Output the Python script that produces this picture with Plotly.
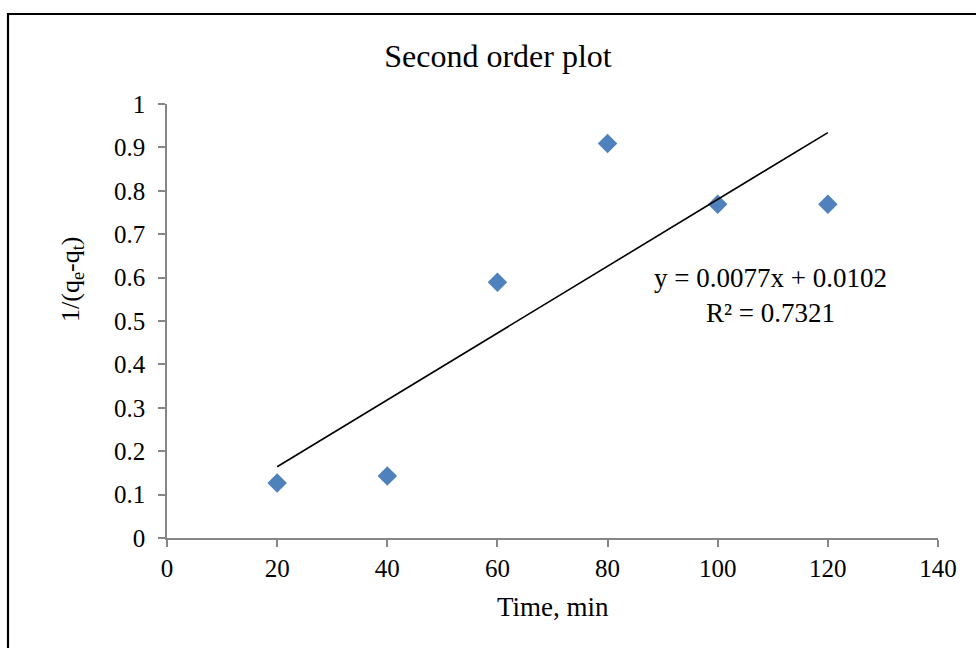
import plotly.graph_objects as go

# Adsorption kinetics: second order plot
time_min = [20, 40, 60, 80, 100, 120]
inv_q = [0.127, 0.143, 0.589, 0.909, 0.769, 0.769]

# Linear trendline as reported in the equation label
slope = 0.0077
intercept = 0.0102
r_squared = 0.7321
trend_x = [min(time_min), max(time_min)]
trend_y = [slope * x + intercept for x in trend_x]

x_ticks = [0, 20, 40, 60, 80, 100, 120, 140]
y_ticks = [0, 0.1, 0.2, 0.3, 0.4, 0.5, 0.6, 0.7, 0.8, 0.9, 1]

FONT = "Liberation Serif, Times New Roman, serif"
AXIS_GREY = "#868686"

fig = go.Figure()
fig.add_trace(go.Scatter(
    x=time_min, y=inv_q, mode="markers",
    marker=dict(symbol="diamond", size=15, color="#4F81BD"),
    showlegend=False, hoverinfo="x+y",
))
fig.add_trace(go.Scatter(
    x=trend_x, y=trend_y, mode="lines",
    line=dict(color="black", width=1.6),
    showlegend=False, hoverinfo="skip",
))

fig.update_layout(
    width=976, height=648,
    margin=dict(l=167, r=38, t=104, b=110),
    paper_bgcolor="white", plot_bgcolor="white",
    font=dict(family=FONT, color="black", size=25),
    title=dict(
        text="Second order plot", font=dict(family=FONT, size=32, color="black"),
        xref="container", yref="container",
        x=498 / 976, y=1 - 56 / 648, xanchor="center", yanchor="middle",
    ),
    xaxis=dict(
        range=[0, 140], tickvals=x_ticks, ticktext=[str(v) for v in x_ticks],
        showgrid=False, zeroline=False,
        showline=True, linecolor=AXIS_GREY, linewidth=1.5,
        ticks="outside", ticklen=7, tickwidth=1.5, tickcolor=AXIS_GREY,
        tickfont=dict(family=FONT, size=25, color="black"),
    ),
    yaxis=dict(
        range=[0, 1], tickvals=y_ticks, ticktext=[f"{v:g}" for v in y_ticks],
        showgrid=False, zeroline=False,
        showline=True, linecolor=AXIS_GREY, linewidth=1.5,
        ticks="outside", ticklen=7, tickwidth=1.5, tickcolor=AXIS_GREY,
        tickfont=dict(family=FONT, size=25, color="black"),
        ticklabelstandoff=8,
    ),
    annotations=[
        dict(text="Time, min", xref="paper", yref="paper",
             x=0.5, y=(538 - 607) / 434, xanchor="center", yanchor="middle",
             showarrow=False, font=dict(family=FONT, size=27, color="black")),
        dict(text="1/(q<sub>e</sub>-q<sub>t</sub>)", xref="paper", yref="paper",
             x=(72 - 167) / 771, y=(538 - 280) / 434, textangle=-90,
             xanchor="center", yanchor="middle",
             showarrow=False, font=dict(family=FONT, size=26, color="black")),
        dict(text=f"y = {slope}x + {intercept}<br>R² = {r_squared}",
             xref="paper", yref="paper",
             x=(770 - 167) / 771, y=(538 - 295) / 434,
             xanchor="center", yanchor="middle", align="center",
             showarrow=False, font=dict(family=FONT, size=27, color="black")),
    ],
    shapes=[
        dict(type="rect", xref="paper", yref="paper",
             x0=(8 - 167) / 771, x1=(990 - 167) / 771,
             y0=(538 - 660) / 434, y1=(538 - 14) / 434,
             line=dict(color="black", width=2.2), fillcolor="rgba(0,0,0,0)",
             layer="below"),
    ],
)

fig.write_html("out.html")
